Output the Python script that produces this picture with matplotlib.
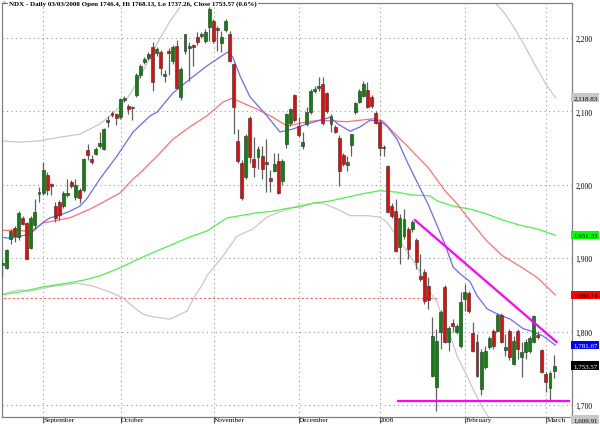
import numpy as np
import pandas as pd
import matplotlib
matplotlib.use("Agg")
import matplotlib.pyplot as plt
from matplotlib.transforms import blended_transform_factory

# trading days on the chart (NYSE holidays removed)
holidays = ["2007-09-03", "2007-11-22", "2007-12-25", "2008-01-01",
            "2008-01-21", "2008-02-18"]
dates = pd.bdate_range("2007-08-16", "2008-03-03")
dates = dates[~dates.isin(pd.to_datetime(holidays))]

opens = [1891, 1887, 1926, 1941, 1929, 1955, 1948, 1914, 1945, 1988,
         1989, 2013, 2001, 1971, 1977, 1971, 1986, 2004, 1983, 1993,
         1993, 2047, 2035, 2042, 2053, 2049, 2086, 2098, 2096, 2092,
         2116, 2107, 2106, 2122, 2150, 2167, 2173, 2188, 2179, 2181,
         2148, 2182, 2169, 2189, 2120, 2182, 2187, 2190, 2201, 2203,
         2196, 2215, 2223, 2211, 2193, 2211, 2205, 2164, 2060, 2030,
         2011, 2091, 2035, 2038, 2039, 2031, 2009, 2019, 2032, 2005,
         2056, 2084, 2122, 2080, 2053, 2083, 2099, 2128, 2132, 2137,
         2125, 2083, 2079, 2064, 2041, 2027, 2054, 2099, 2113, 2121,
         2129, 2120, 2098, 2086, 2050, 2026, 1971, 1964, 1915, 1930,
         1940, 1940, 1925, 1876, 1881, 1862, 1740, 1725, 1799, 1861,
         1786, 1812, 1799, 1780, 1844, 1853, 1798, 1786, 1722, 1752,
         1779, 1801, 1801, 1823, 1775, 1801, 1756, 1801, 1766, 1772,
         1774, 1786, 1795, 1775, 1742, 1723, 1746.4]
highs = [1897, 1913, 1940, 1944, 1964, 1957, 1950, 1957, 1981, 1997,
         2031, 2017, 2003, 1977, 1980, 1991, 2008, 2006, 2008, 1996,
         2037, 2056, 2040, 2051, 2072, 2078, 2094, 2100, 2098, 2118,
         2121, 2110, 2108, 2152, 2164, 2174, 2181, 2195, 2188, 2184,
         2156, 2186, 2190, 2197, 2160, 2206, 2195, 2192, 2208, 2208,
         2212, 2242, 2226, 2216, 2210, 2226, 2210, 2166, 2076, 2034,
         2069, 2094, 2065, 2053, 2053, 2062, 2020, 2044, 2044, 2035,
         2098, 2105, 2124, 2092, 2072, 2106, 2130, 2134, 2147, 2147,
         2127, 2096, 2082, 2068, 2043, 2039, 2069, 2113, 2131, 2141,
         2140, 2122, 2101, 2088, 2054, 2027, 1975, 1981, 1960, 1967,
         1943, 1952, 1927, 1906, 1886, 1874, 1820, 1803, 1830, 1863,
         1808, 1817, 1811, 1854, 1865, 1855, 1813, 1797, 1776, 1780,
         1794, 1803, 1825, 1826, 1797, 1803, 1794, 1804, 1786, 1790,
         1794, 1823, 1801, 1777, 1745, 1746, 1768.13]
lows = [1875, 1885, 1920, 1922, 1925, 1945, 1899, 1913, 1940, 1977,
        1986, 1986, 1986, 1950, 1952, 1968, 1984, 1996, 1980, 1975,
        1990, 2034, 2028, 2040, 2050, 2047, 2079, 2092, 2081, 2090,
        2113, 2096, 2088, 2119, 2146, 2164, 2170, 2128, 2176, 2150,
        2140, 2150, 2165, 2130, 2116, 2178, 2141, 2162, 2190, 2200,
        2193, 2196, 2193, 2182, 2181, 2208, 2168, 2069, 2030, 1980,
        2008, 2030, 2011, 2022, 2008, 1990, 1990, 2017, 1987, 2000,
        2050, 2080, 2086, 2065, 2049, 2080, 2097, 2125, 2128, 2082,
        2098, 2072, 2070, 1998, 2026, 2019, 2039, 2097, 2111, 2120,
        2104, 2105, 2083, 2039, 2039, 1961, 1955, 1908, 1892, 1926,
        1899, 1936, 1885, 1869, 1838, 1831, 1738, 1692, 1776, 1785,
        1774, 1800, 1797, 1778, 1828, 1826, 1772, 1738, 1714, 1749,
        1776, 1776, 1799, 1784, 1767, 1762, 1755, 1763, 1738, 1763,
        1771, 1784, 1790, 1743, 1718, 1707, 1737.26]
closes = [1893, 1911, 1937, 1930, 1962, 1947, 1899, 1955, 1963, 1990,
          2020, 1993, 1998, 1955, 1959, 1989, 1989, 1999, 2000, 1982,
          2035, 2041, 2031, 2049, 2057, 2076, 2088, 2095, 2091, 2117,
          2118, 2103, 2104, 2150, 2162, 2171, 2178, 2140, 2185, 2159,
          2151, 2179, 2188, 2132, 2158, 2205, 2189, 2188, 2194, 2205,
          2208, 2240, 2196, 2214, 2201, 2223, 2169, 2106, 2032, 1982,
          2066, 2038, 2024, 2049, 2022, 2028, 2005, 2028, 1989, 2032,
          2096, 2103, 2088, 2068, 2058, 2099, 2128, 2131, 2135, 2084,
          2100, 2094, 2072, 2019, 2028, 2031, 2069, 2111, 2128, 2137,
          2106, 2107, 2084, 2050, 2052, 1963, 1957, 1910, 1955, 1953,
          1913, 1949, 1895, 1872, 1842, 1843, 1794, 1787, 1827, 1786,
          1805, 1808, 1808, 1840, 1854, 1828, 1774, 1740, 1772, 1774,
          1792, 1780, 1823, 1786, 1779, 1765, 1787, 1776, 1772, 1786,
          1791, 1821, 1793, 1745, 1731, 1744, 1753.57]

# indicator lines (bar position, value)
ma20_x = [-0.6, 1.9, 4.3, 6.8, 10, 11.7, 14.2, 16.6, 19.1, 20.8, 24, 28.2,
          32.2, 36.4, 38.1, 42, 46.2, 50.4, 53.6, 55.6, 56.8, 58.6, 61, 65.2,
          68.4, 71.6, 75.1, 78.3, 80.8, 82.7, 85.7, 88.2, 90.6, 93.1, 94.8,
          97.3, 99.8, 102.2, 104.9, 107.2, 109.1, 111.1, 112.8, 115.3, 117,
          119.5, 122, 125.2, 128.4, 130.8, 133.3, 136.3]
ma20_y = [1929, 1927, 1930, 1933, 1949, 1955, 1959, 1964, 1971, 1981, 2008,
          2039, 2072, 2094, 2099, 2125, 2144, 2162, 2174, 2181, 2174, 2148,
          2120, 2094, 2072, 2076, 2083, 2088, 2092, 2083, 2073, 2079, 2088,
          2087, 2080, 2062, 2031, 2004, 1974, 1944, 1919, 1888, 1879, 1868,
          1849, 1831, 1824, 1817, 1804, 1800, 1794, 1781.67]
ma50_x = [-0.6, 4.3, 6.8, 10, 16.6, 21.6, 24, 29, 32.2, 33.9, 36.4, 38.1, 42,
          46.2, 50.4, 54.4, 56.6, 58.6, 62.8, 66.7, 70.2, 75.1, 78.3, 84.9,
          91.4, 93.8, 96.3, 99.8, 102.2, 104.9, 109.1, 112.1, 115.3, 119.5,
          123.4, 127.6, 131.8, 136.3]
ma50_y = [1938, 1938, 1936, 1948, 1955, 1967, 1974, 1989, 2008, 2016, 2030,
          2039, 2062, 2079, 2094, 2113, 2118, 2113, 2103, 2092, 2080, 2086,
          2088, 2086, 2090, 2087, 2072, 2053, 2039, 2024, 1992, 1974, 1951,
          1923, 1903, 1889, 1874, 1850]
ma200_x = [-0.6, 4.3, 10, 15.9, 19.9, 24, 29, 33.9, 38.1, 42, 46.2, 50.4,
           55.4, 58.6, 62.8, 66.7, 70.2, 73.4, 76.6, 80.8, 84.9, 88.9, 93.1,
           97.3, 101.2, 105.4, 107.2, 111.1, 115.3, 119.5, 123.4, 127.6,
           131.8, 136.3]
ma200_y = [1850, 1854, 1861, 1866, 1870, 1876, 1887, 1900, 1910, 1919, 1929,
           1937, 1955, 1958, 1962, 1964, 1968, 1970, 1975, 1978, 1983, 1988,
           1992, 1990, 1986, 1985, 1978, 1971, 1967, 1960, 1952, 1945, 1940,
           1931.33]
bb_low_x = [-0.6, 1.9, 4.3, 6.8, 11.7, 18.4, 22.3, 26.5, 29.7, 32.2, 34.6,
            36.4, 41.3, 45.5, 47.5, 49.4, 50.4, 54.4, 57.8, 61.8, 65.2, 68.4,
            72.6, 76.6, 79, 82.5, 85.7, 89.9, 93.1, 94.8, 97.3, 99.8, 103,
            104.9, 107.2, 108.6, 110.4, 112.1, 114.5, 116, 118.5, 120.2,
            136.3]
bb_low_y = [1849, 1854, 1857, 1855, 1861, 1866, 1862, 1854, 1846, 1834, 1824,
            1821, 1817, 1828, 1849, 1865, 1876, 1903, 1930, 1940, 1956, 1963,
            1971, 1975, 1975, 1967, 1958, 1958, 1956, 1949, 1930, 1909, 1881,
            1858, 1840, 1817, 1794, 1767, 1740, 1722, 1695, 1681, 1609.91]
bb_up_x = [-0.6, 4.3, 9.2, 14.2, 19.1, 24, 27.3, 30.7, 33.2, 35.6, 38.8,
           41.3, 44.3, np.nan, 121.5, 123.9, 126.4, 128.9, 131.3, 133.8,
           136.3]
bb_up_y = [2060, 2058, 2060, 2065, 2069, 2083, 2097, 2117, 2140, 2165, 2199,
           2223, 2246, np.nan, 2248, 2233, 2212, 2188, 2163, 2139, 2118.83]

# drawn trend lines
trend_x = [101.7, 136.6]
trend_y = [1952, 1786]
support_x = [97.5, 139.7]
support_y = [1705, 1705]
old_level_x = [-1, 107.5]
old_level_y = [1846, 1846]

month_names = ["September", "October", "November", "December", "2008",
               "February", "March"]
price_ticks = [1700, 1800, 1900, 2000, 2100, 2200]

# value boxes at the right edge: (position, text, face, text colour)
box_pos = [2118.83, 1931.33, 1850, 1781.67, 1753.57, 1680]
box_text = ["2,118.83", "1,931.33", "1,880.74", "1,781.67", "1,753.57",
            "1,609.91"]
box_face = ["#c8c8c8", "#00ff00", "#ff0000", "#0000ff", "#000000", "#c8c8c8"]
box_fg = ["#000000", "#000000", "#000000", "#ffffff", "#ffffff", "#000000"]

title = ("NDX - Daily 03/03/2008 Open 1746.4, Hi 1768.13, Lo 1737.26, "
         "Close 1753.57 (0.6%)")

plt.rcParams['font.family'] = ['Liberation Serif', 'DejaVu Serif']

fig = plt.figure(figsize=(6.0, 4.27), dpi=100)
ax = fig.add_axes([2 / 600, 9 / 427, 569.5 / 600, 414.5 / 427])

x = np.arange(len(opens))
o, h, l, c = (np.array(v, dtype=float) for v in (opens, highs, lows, closes))
up = c >= o

# month grid: first trading day of each month
month_first = [int(np.argmax(dates.month == m)) for m in (9, 10, 11, 12, 1, 2, 3)]
month_pos = [m - 1.9 for m in month_first]
for mp in month_pos:
    ax.axvline(mp, color='#9a9a9a', lw=0.8, ls=(0, (1, 3)), zorder=1)
for p in price_ticks:
    ax.axhline(p, color='#9a9a9a', lw=0.8, ls=(0, (1, 3)), zorder=1)

ax.plot(old_level_x, old_level_y, color='#ff6060', lw=0.8, ls=(0, (2, 2)), zorder=1)
ax.plot(bb_up_x, bb_up_y, color='#c8c8c8', lw=0.9, zorder=2)
ax.plot(bb_low_x, bb_low_y, color='#c8c8c8', lw=0.9, zorder=2)
ax.plot(ma200_x, ma200_y, color='#50f050', lw=0.9, zorder=2)
ax.plot(ma50_x, ma50_y, color='#ff7070', lw=0.9, zorder=2)
ax.plot(ma20_x, ma20_y, color='#6a6aff', lw=0.9, zorder=2)

ax.vlines(x, l, h, color='#606060', lw=0.9, zorder=3)
body_lo = np.minimum(o, c)
body_h = np.maximum(np.abs(c - o), 1.0)
ax.bar(x, body_h, bottom=body_lo, width=0.72,
       color=np.where(up, '#008c00', '#ff0000'),
       edgecolor='#404040', linewidth=0.5, zorder=4)

ax.plot(trend_x, trend_y, color='#ff00ff', lw=1.6, zorder=5)
ax.plot(support_x, support_y, color='#ff00ff', lw=1.6, zorder=5)

ax.set_xlim(-0.12, 140.3)
ax.set_ylim(1683.7, 2248.4)

ax.yaxis.tick_right()
ax.set_yticks(price_ticks)
ax.set_yticklabels([f"{p:,}" for p in price_ticks])
ax.tick_params(axis='y', length=0, pad=3, labelsize=5.5)
ax.set_xticks(month_pos)
ax.set_xticklabels(month_names)
ax.tick_params(axis='x', length=4, width=0.8, color='#606060', pad=-4,
               labelsize=5.2)
for t in ax.get_xticklabels():
    t.set_horizontalalignment('left')

for s in ax.spines.values():
    s.set_color('#808080')
    s.set_linewidth(0.9)

tr = blended_transform_factory(ax.transAxes, ax.transData)
for pos, txt, fc, tc in zip(box_pos, box_text, box_face, box_fg):
    ax.text(1.003, pos, txt, transform=tr, fontsize=5, color=tc,
            va='center', ha='left', clip_on=False,
            bbox=dict(boxstyle='square,pad=0.25', fc=fc, ec='none'))

fig.text(9 / 600, 1 - 4 / 427, title, fontsize=5.0, fontweight='bold',
         va='center', ha='left',
         bbox=dict(boxstyle='square,pad=0.2', fc='white', ec='none'))
fig.text(3 / 600, 1 - 4 / 427, "^", fontsize=4.5, va='center', ha='left')

fig.savefig("out.png", dpi=100)
